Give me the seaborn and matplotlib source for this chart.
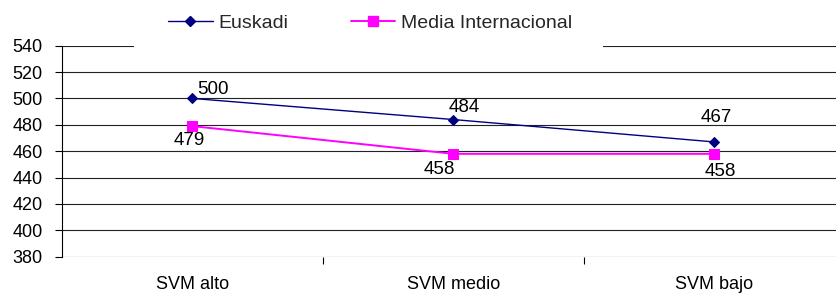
import matplotlib
matplotlib.use("Agg")
import matplotlib.pyplot as plt
from matplotlib.patches import Rectangle
from matplotlib.lines import Line2D
import seaborn as sns
import pandas as pd

categories = ["SVM alto", "SVM medio", "SVM bajo"]
euskadi = [500, 484, 467]
media_int = [479, 458, 458]
series_names = ["Euskadi", "Media Internacional"]
y_ticks = [380, 400, 420, 440, 460, 480, 500, 520, 540]

df = pd.DataFrame({
    "cat": categories * 2,
    "x": list(range(len(categories))) * 2,
    "val": euskadi + media_int,
    "serie": [series_names[0]] * 3 + [series_names[1]] * 3,
})

sns.set_theme(style="white")
plt.rcParams["font.family"] = ["Liberation Sans", "DejaVu Sans"]

W, H = 837, 293
fig = plt.figure(figsize=(W / 100, H / 100), dpi=100)
ax = fig.add_axes([62 / W, 1 - 256.7 / H, (845 - 62) / W, (256.7 - 45.7) / H])

colors = {"Euskadi": "#000080", "Media Internacional": "#FF00FF"}
markers = {"Euskadi": "D", "Media Internacional": "s"}
sizes = {"Euskadi": 1.0, "Media Internacional": 1.4}
msizes = {"Euskadi": 5.5, "Media Internacional": 6.5}

for name in series_names:
    sub = df[df["serie"] == name]
    sns.lineplot(data=sub, x="x", y="val", color=colors[name], marker=markers[name],
                 markersize=msizes[name], markeredgecolor=colors[name],
                 linewidth=sizes[name], ax=ax, legend=False, zorder=5)

ax.set_xlim(-0.5, 2.5)
ax.set_ylim(380, 540)
ax.set_yticks(y_ticks)
ax.set_yticklabels([str(v) for v in y_ticks], fontsize=13, color="black")
ax.set_xticks(range(len(categories)))
ax.set_xticklabels(categories, fontsize=13, color="black")
ax.set_xticks([0.5, 1.5], minor=True)
ax.tick_params(axis="x", which="major", length=0, pad=14)
ax.tick_params(axis="x", which="minor", length=5, width=0.8, color="black", direction="out", bottom=True)
ax.tick_params(axis="y", which="major", length=5, width=0.8, color="black", direction="out", left=True, pad=9)
ax.set_xlabel("")
ax.set_ylabel("")

for yv in y_ticks:
    ax.axhline(yv, color="#222222", linewidth=0.8, zorder=1)

for s in ["top", "right", "bottom"]:
    ax.spines[s].set_visible(False)
ax.spines["left"].set_color("black")
ax.spines["left"].set_linewidth(0.8)

# data labels (offsets in points)
eus_off = [(15, 6.5), (8, 8.5), (1.5, 17.5)]
med_off = [(-2, -10), (-10, -11), (4, -12.5)]
for i, v in enumerate(euskadi):
    ax.annotate(str(v), (i, v), xytext=eus_off[i], textcoords="offset points",
                ha="center", va="center", fontsize=13.5, color="black", zorder=6)
for i, v in enumerate(media_int):
    ax.annotate(str(v), (i, v), xytext=med_off[i], textcoords="offset points",
                ha="center", va="center", fontsize=13.5, color="black", zorder=6)

# white legend background covering top gridline
fig.patches.append(Rectangle((134 / W, 1 - 49 / H), (603 - 134) / W, 49 / H,
                             transform=fig.transFigure, facecolor="white",
                             edgecolor="none", zorder=1))

handles = [Line2D([0], [0], color=colors[n], marker=markers[n], markersize=msizes[n],
                  linewidth=sizes[n]) for n in series_names]
leg = fig.legend(handles, series_names, loc="center left", bbox_to_anchor=(168 / W, 1 - 23 / H),
                 ncol=2, frameon=False, fontsize=14, handlelength=2.3, handletextpad=0.3,
                 columnspacing=3.2, borderaxespad=0, borderpad=0)
leg.set_zorder(5)

fig.savefig("out.png", dpi=100)
